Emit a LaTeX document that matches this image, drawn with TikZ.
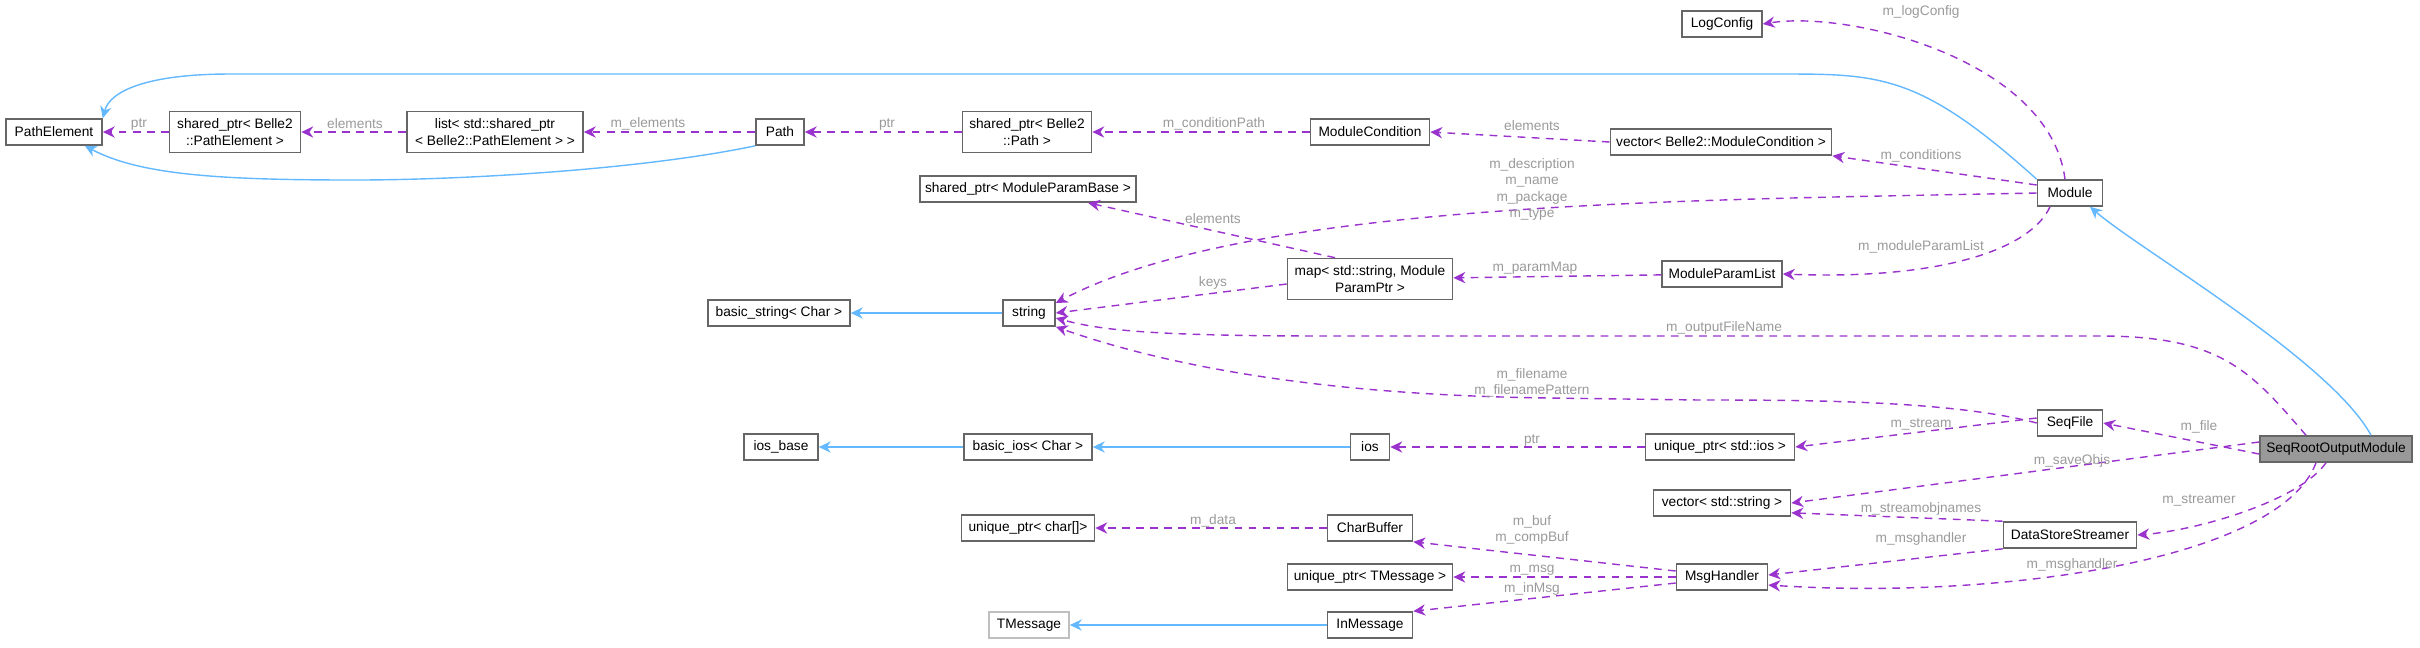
\documentclass[tikz,border=0pt]{standalone}
\usepackage{fontspec}
\setmainfont{Liberation Sans}
\usetikzlibrary{arrows.meta,positioning,calc}
\definecolor{doxblue}{HTML}{63B8FF}
\definecolor{doxpurple}{HTML}{9A32CD}
\definecolor{doxlabel}{HTML}{9A9A9A}
\definecolor{doxframe}{HTML}{666666}
\newcommand\dfont{\fontsize{3.9}{4.6}\selectfont}
\tikzset{
  cls/.style={draw=doxframe, line width=0.45pt, fill=white, font=\dfont, align=center,
    minimum height=0.26cm, inner sep=0.5pt, minimum width=#1},
  cls/.default=1cm,
  inh/.style={draw=doxblue, line width=0.4pt, -{Stealth[length=3.4pt,width=3.2pt]}},
  use/.style={draw=doxpurple, line width=0.4pt, dash pattern=on 2.2pt off 1.8pt,
    -{Stealth[length=3.4pt,width=3.2pt]}},
  lbl/.style={font=\dfont, text=doxlabel, inner sep=0pt, align=center}
}
\begin{document}
\begin{tikzpicture}[x=0.01cm, y=-0.01cm]
\useasboundingbox (0,0) rectangle (2420,647);
% classes
\node[cls=0.8cm]  (logcfg)  at (1722,24)  {LogConfig};
\node[cls=0.96cm] (pathel)  at (54,132)   {PathElement};
\node[cls=1.31cm, minimum height=0.41cm] (spPE) at (235,132) {shared\_ptr\textless{} Belle2\\::PathElement \textgreater{}};
\node[cls=1.76cm, minimum height=0.41cm] (listSP) at (495,132) {list\textless{} std::shared\_ptr\\\textless{} Belle2::PathElement \textgreater{} \textgreater{}};
\node[cls=0.48cm] (path)    at (780,132)  {Path};
\node[cls=1.29cm, minimum height=0.41cm] (spPath) at (1027,132) {shared\_ptr\textless{} Belle2\\::Path \textgreater{}};
\node[cls=1.19cm] (modcond) at (1370,132) {ModuleCondition};
\node[cls=2.21cm] (vecMC)   at (1721,142) {vector\textless{} Belle2::ModuleCondition \textgreater{}};
\node[cls=0.65cm] (module)  at (2070,193) {Module};
\node[cls=2.16cm] (spMPB)   at (1028,189) {shared\_ptr\textless{} ModuleParamBase \textgreater{}};
\node[cls=1.65cm, minimum height=0.41cm] (mapPP) at (1370,279) {map\textless{} std::string, Module\\ParamPtr \textgreater{}};
\node[cls=1.2cm]  (mplist)  at (1722,274) {ModuleParamList};
\node[cls=1.42cm] (bstring) at (779,313)  {basic\_string\textless{} Char \textgreater{}};
\node[cls=0.52cm] (string)  at (1029,313) {string};
\node[cls=0.65cm] (seqfile) at (2070,423) {SeqFile};
\node[cls=1.52cm, fill=black!40] (srom) at (2336,449) {SeqRootOutputModule};
\node[cls=0.74cm] (iosbase) at (781,447)  {ios\_base};
\node[cls=1.28cm] (bios)    at (1028,447) {basic\_ios\textless{} Char \textgreater{}};
\node[cls=0.39cm] (ios)     at (1370,447) {ios};
\node[cls=1.49cm] (upios)   at (1720,447) {unique\_ptr\textless{} std::ios \textgreater{}};
\node[cls=1.37cm] (vecstr)  at (1722,503) {vector\textless{} std::string \textgreater{}};
\node[cls=1.33cm] (dss)     at (2070,535) {DataStoreStreamer};
\node[cls=1.33cm] (upchar)  at (1028,528) {unique\_ptr\textless{} char[]\textgreater{}};
\node[cls=0.85cm] (charbuf) at (1370,528) {CharBuffer};
\node[cls=0.91cm] (msgh)    at (1722,577) {MsgHandler};
\node[cls=1.65cm] (upTM)    at (1370,577) {unique\_ptr\textless{} TMessage \textgreater{}};
\node[cls=0.8cm, draw=black!25] (tmsg) at (1029,625) {TMessage};
\node[cls=0.85cm] (inmsg)   at (1370,625) {InMessage};
% inheritance
\draw[inh] (module.north west) .. controls (1920,74) and (1880,74) .. (1780,74) -- (230,74) .. controls (150,74) and (110,90) .. (pathel.north east);
\draw[inh] (path.south west) .. controls (640,170) and (460,180) .. (355,180) .. controls (220,180) and (140,175) .. ([xshift=-0.18cm]pathel.south east);
\draw[inh] ([xshift=0.35cm]srom.north) .. controls (2330,360) and (2140,250) .. ([xshift=0.2cm]module.south);
\draw[inh] (string) -- (bstring);
\draw[inh] (bios) -- (iosbase);
\draw[inh] (ios) -- (bios);
\draw[inh] (inmsg) -- (tmsg);
% usage
\draw[use] ([xshift=-0.05cm]module.north) .. controls (2050,60) and (1850,10) .. (logcfg.east);
\draw[use] (spPE) -- (pathel);
\draw[use] (listSP) -- (spPE);
\draw[use] (path) -- (listSP);
\draw[use] (spPath) -- (path);
\draw[use] (modcond) -- (spPath);
\draw[use] (vecMC.west) -- (modcond.east);
\draw[use] ([yshift=0.08cm]module.west) -- (vecMC.south east);
\draw[use] (module.west) .. controls (1700,200) and (1250,200) .. ([yshift=0.1cm]string.east);
\draw[use] ([xshift=-0.2cm]module.south) .. controls (2030,250) and (1940,280) .. (mplist.east);
\draw[use] (mplist) -- (mapPP);
\draw[use] ([xshift=-0.35cm]mapPP.north) -- ([xshift=0.6cm]spMPB.south);
\draw[use] ([yshift=-0.05cm]mapPP.west) -- (string.east);
\draw[use] ([xshift=-0.3cm]srom.north) .. controls (2250,370) and (2220,336) .. (2100,336) -- (1330,336) .. controls (1150,336) and (1100,330) .. ([yshift=-0.05cm]string.east);
\draw[use] (seqfile.west) .. controls (1950,400) and (1800,400) .. (1700,400) -- (1550,398) .. controls (1300,395) and (1150,360) .. (string.south east);
\draw[use] ([yshift=-0.05cm]srom.west) -- (seqfile.east);
\draw[use] ([yshift=0.05cm]seqfile.west) -- (upios.east);
\draw[use] (upios) -- (ios);
\draw[use] ([yshift=0.07cm]srom.west) -- (vecstr.east);
\draw[use] (dss.north west) -- ([yshift=0.04cm]vecstr.south east);
\draw[use] ([xshift=-0.1cm]srom.south) .. controls (2300,500) and (2200,530) .. (dss.east);
\draw[use] (dss.south west) -- ([yshift=0.02cm]msgh.east);
\draw[use] ([xshift=-0.2cm]srom.south) .. controls (2280,560) and (2000,600) .. ([yshift=-0.08cm]msgh.east);
\draw[use] (charbuf) -- (upchar);
\draw[use] ([yshift=0.06cm]msgh.west) -- (charbuf.south east);
\draw[use] (msgh) -- (upTM);
\draw[use] ([yshift=-0.06cm]msgh.west) -- (inmsg.north east);
% labels
\node[lbl] (lLog)  at (1921,12)  {m\_logConfig};
\node[lbl] (lPtr1) at (139,124)  {ptr};
\node[lbl] (lEl1)  at (355,124)  {elements};
\node[lbl] (lEl2)  at (648,124)  {m\_elements};
\node[lbl] (lPtr2) at (887,124)  {ptr};
\node[lbl] (lCond) at (1214,124) {m\_conditionPath};
\node[lbl] (lEl3)  at (1532,126) {elements};
\node[lbl] (lMC)   at (1921,156) {m\_conditions};
\node[lbl, text depth=0pt] (lDesc) at (1532,188) {m\_description\\m\_name\\m\_package\\m\_type};
\node[lbl] (lEl4)  at (1213,219) {elements};
\node[lbl] (lKeys) at (1213,283) {keys};
\node[lbl] (lPM)   at (1535,268) {m\_paramMap};
\node[lbl] (lMPL)  at (1921,247) {m\_moduleParamList};
\node[lbl] (lOFN)  at (1724,328) {m\_outputFileName};
\node[lbl] (lFN)   at (1532,383) {m\_filename\\m\_filenamePattern};
\node[lbl] (lStr)  at (1921,424) {m\_stream};
\node[lbl] (lFile) at (2199,427) {m\_file};
\node[lbl] (lPtr3) at (1532,440) {ptr};
\node[lbl] (lSave) at (2072,461) {m\_saveObjs};
\node[lbl] (lSON)  at (1921,509) {m\_streamobjnames};
\node[lbl] (lStrm) at (2199,500) {m\_streamer};
\node[lbl] (lMH1)  at (1921,539) {m\_msghandler};
\node[lbl] (lMH2)  at (2072,565) {m\_msghandler};
\node[lbl] (lData) at (1213,521) {m\_data};
\node[lbl] (lBuf)  at (1532,530) {m\_buf\\m\_compBuf};
\node[lbl] (lMsg)  at (1532,570) {m\_msg};
\node[lbl] (lIn)   at (1532,589) {m\_inMsg};
\end{tikzpicture}
\end{document}
